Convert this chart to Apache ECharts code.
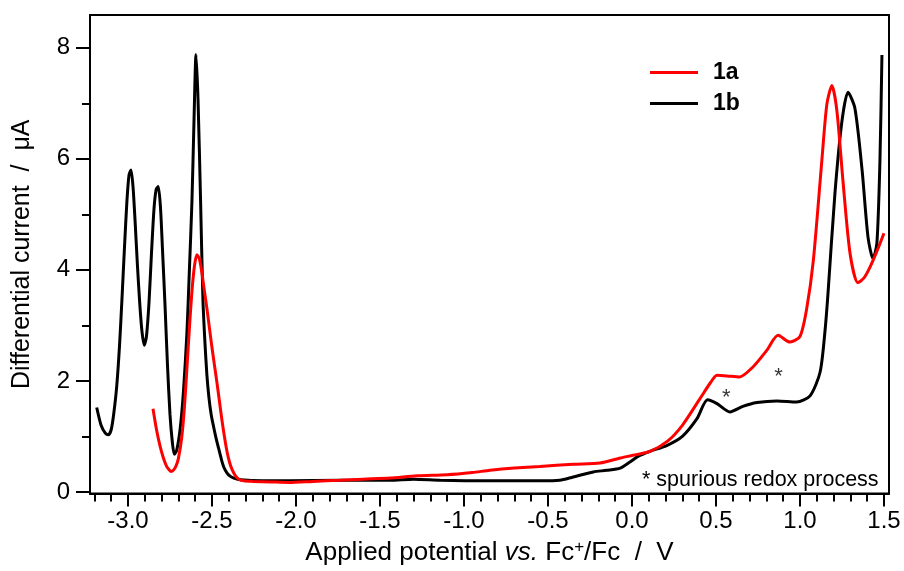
<!DOCTYPE html>
<html><head><meta charset="utf-8">
<script src="https://cdn.jsdelivr.net/npm/echarts@6/dist/echarts.min.js"></script>
<style>html,body{margin:0;padding:0;background:#fff}#c{width:904px;height:571px}</style>
</head><body><div id="c"></div>
<script>
// Potential (V vs Fc+/Fc) and differential current (uA)
const x1a = [-2.851,-2.83,-2.81,-2.79,-2.77,-2.755,-2.744,-2.73,-2.715,-2.70,-2.68,-2.665,-2.65,-2.635,-2.62,-2.605,-2.59,-2.575,-2.56,-2.545,-2.53,-2.515,-2.5,-2.485,-2.47,-2.455,-2.44,-2.425,-2.41,-2.395,-2.38,-2.36,-2.34,-2.31,-2.256,-2.15,-2.04,-1.9,-1.74,-1.6,-1.44,-1.28,-1.10,-0.95,-0.845,-0.7,-0.548,-0.35,-0.19,-0.07,0.006,0.107,0.21,0.30,0.405,0.47,0.506,0.565,0.64,0.72,0.80,0.87,0.94,1.0,1.04,1.08,1.13,1.16,1.19,1.22,1.256,1.298,1.345,1.38,1.417,1.46,1.5];
const y1a = [1.50,1.12,0.84,0.62,0.46,0.40,0.37,0.39,0.46,0.60,0.98,1.48,2.18,2.92,3.58,4.05,4.27,4.20,3.95,3.62,3.30,2.95,2.60,2.28,1.96,1.62,1.28,0.98,0.72,0.53,0.40,0.29,0.23,0.20,0.19,0.18,0.17,0.19,0.21,0.23,0.25,0.29,0.31,0.35,0.39,0.43,0.46,0.50,0.52,0.61,0.66,0.73,0.91,1.20,1.68,1.98,2.10,2.09,2.07,2.25,2.54,2.82,2.70,2.80,3.30,4.18,5.96,6.98,7.32,6.86,5.60,4.30,3.77,3.85,4.05,4.35,4.66];
const x1b = [-3.186,-3.16,-3.135,-3.117,-3.10,-3.085,-3.067,-3.05,-3.036,-3.02,-3.006,-2.994,-2.982,-2.97,-2.958,-2.944,-2.93,-2.917,-2.903,-2.89,-2.875,-2.86,-2.845,-2.832,-2.82,-2.807,-2.795,-2.78,-2.765,-2.75,-2.736,-2.724,-2.71,-2.69,-2.67,-2.649,-2.635,-2.619,-2.607,-2.595,-2.583,-2.568,-2.554,-2.542,-2.53,-2.518,-2.505,-2.49,-2.475,-2.46,-2.445,-2.43,-2.41,-2.39,-2.37,-2.33,-2.2,-2.04,-1.74,-1.44,-1.30,-1.14,-0.845,-0.548,-0.43,-0.35,-0.23,-0.15,-0.07,-0.012,0.036,0.107,0.21,0.30,0.387,0.45,0.506,0.583,0.66,0.744,0.863,0.98,1.06,1.12,1.15,1.167,1.208,1.25,1.286,1.327,1.37,1.405,1.435,1.458,1.476,1.488];
const y1b = [1.52,1.20,1.06,1.03,1.12,1.40,1.90,2.65,3.46,4.45,5.25,5.70,5.80,5.50,4.90,4.10,3.40,2.90,2.64,2.80,3.40,4.30,5.10,5.45,5.50,5.15,4.40,3.40,2.30,1.40,0.90,0.68,0.75,1.12,1.80,2.87,3.95,5.25,6.68,7.88,7.07,5.27,3.48,2.70,2.10,1.70,1.40,1.17,0.96,0.78,0.60,0.45,0.34,0.28,0.25,0.22,0.20,0.20,0.21,0.21,0.23,0.21,0.20,0.20,0.21,0.27,0.36,0.39,0.43,0.54,0.64,0.73,0.84,1.00,1.32,1.66,1.59,1.44,1.54,1.61,1.64,1.62,1.73,2.16,2.93,3.58,5.37,6.68,7.20,6.91,5.79,4.59,4.20,4.48,5.96,7.87];
const seriesNames = ['1a','1b'];
const xMajorTicks = [-3.0,-2.5,-2.0,-1.5,-1.0,-0.5,0.0,0.5,1.0,1.5];
const xMinorTicks = [-3.2,-3.1,-2.9,-2.8,-2.7,-2.6,-2.4,-2.3,-2.2,-2.1,-1.9,-1.8,-1.7,-1.6,-1.4,-1.3,-1.2,-1.1,-0.9,-0.8,-0.7,-0.6,-0.4,-0.3,-0.2,-0.1,0.1,0.2,0.3,0.4,0.6,0.7,0.8,0.9,1.1,1.2,1.3,1.4];
const yMajorTicks = [0,2,4,6,8];
const yMinorTicks = [1,3,5,7];
const annotations = [{x:0.562,y:1.70,t:'*'},{x:0.872,y:2.08,t:'*'}];

const pair = (xs, ys) => xs.map((v,i)=>[v, ys[i]]);
const XMIN=-3.226, XMAX=1.53, YMIN=-0.03, YMAX=8.59;
const FONT='Liberation Sans, Arial, sans-serif';
const chart = echarts.init(document.getElementById('c'), null, {renderer:'canvas'});
chart.setOption({
  animation:false,
  backgroundColor:'#fff',
  grid:{left:90,right:15,top:15,bottom:76,show:true,borderColor:'#000',borderWidth:2,containLabel:false},
  legend:{orient:'vertical',left:645,top:56,itemWidth:48,itemHeight:3,itemGap:8,icon:'rect',
    textStyle:{fontFamily:FONT,fontWeight:'bold',fontSize:23,color:'#000',padding:[0,0,0,10]},
    data:seriesNames},
  xAxis:[{type:'value',min:XMIN,max:XMAX,
    axisLine:{show:true,onZero:false,lineStyle:{color:'#000',width:2}},
    axisTick:{show:true,inside:false,length:13,lineStyle:{color:'#000',width:2},customValues:xMajorTicks},
    axisLabel:{customValues:xMajorTicks,formatter:v=>v.toFixed(1),fontFamily:FONT,fontSize:24,color:'#000',margin:16},
    splitLine:{show:false},
    name:'{n|Applied potential }{i|vs.}{n| Fc}{s|+}{n|/Fc  /  V}',nameLocation:'middle',nameGap:42,
    nameTextStyle:{rich:{n:{fontFamily:FONT,fontSize:26,color:'#000'},i:{fontFamily:FONT,fontSize:26,fontStyle:'italic',color:'#000'},s:{fontFamily:FONT,fontSize:17,color:'#000',verticalAlign:'top',padding:[0,0,12,0]}}}
  },{type:'value',min:XMIN,max:XMAX,gridIndex:0,position:'bottom',
    axisLine:{show:false,onZero:false},axisLabel:{show:false},splitLine:{show:false},
    axisTick:{show:true,inside:false,length:8,lineStyle:{color:'#000',width:2},customValues:xMinorTicks}}],
  yAxis:[{type:'value',min:YMIN,max:YMAX,
    axisLine:{show:true,onZero:false,lineStyle:{color:'#000',width:2}},
    axisTick:{show:true,inside:false,length:14,lineStyle:{color:'#000',width:2},customValues:yMajorTicks},
    axisLabel:{customValues:yMajorTicks,fontFamily:FONT,fontSize:24,color:'#000',margin:20},
    splitLine:{show:false},
    name:'Differential current  /  μA',nameLocation:'middle',nameGap:55,
    nameTextStyle:{fontFamily:FONT,fontSize:25,color:'#000'}
  },{type:'value',min:YMIN,max:YMAX,gridIndex:0,position:'left',
    axisLine:{show:false,onZero:false},axisLabel:{show:false},splitLine:{show:false},
    axisTick:{show:true,inside:false,length:8,lineStyle:{color:'#000',width:2},customValues:yMinorTicks}}],
  series:[
    {name:seriesNames[0],type:'line',data:pair(x1a,y1a),smooth:0.25,symbol:'none',lineStyle:{color:'#ff0000',width:3},itemStyle:{color:'#ff0000'},z:3},
    {name:seriesNames[1],type:'line',data:pair(x1b,y1b),smooth:0.25,symbol:'none',lineStyle:{color:'#000',width:3},itemStyle:{color:'#000'},z:2},
    {name:'notes',type:'scatter',symbolSize:0,data:annotations.map(a=>[a.x,a.y]),
      label:{show:true,position:'inside',formatter:p=>annotations[p.dataIndex].t,fontFamily:FONT,fontSize:22,color:'#000'},silent:true}
  ],
  graphic:[{type:'text',left:642,top:469,style:{text:'* spurious redox process',fontFamily:FONT,fontSize:21.5,fill:'#000'}}]
});
</script></body></html>
